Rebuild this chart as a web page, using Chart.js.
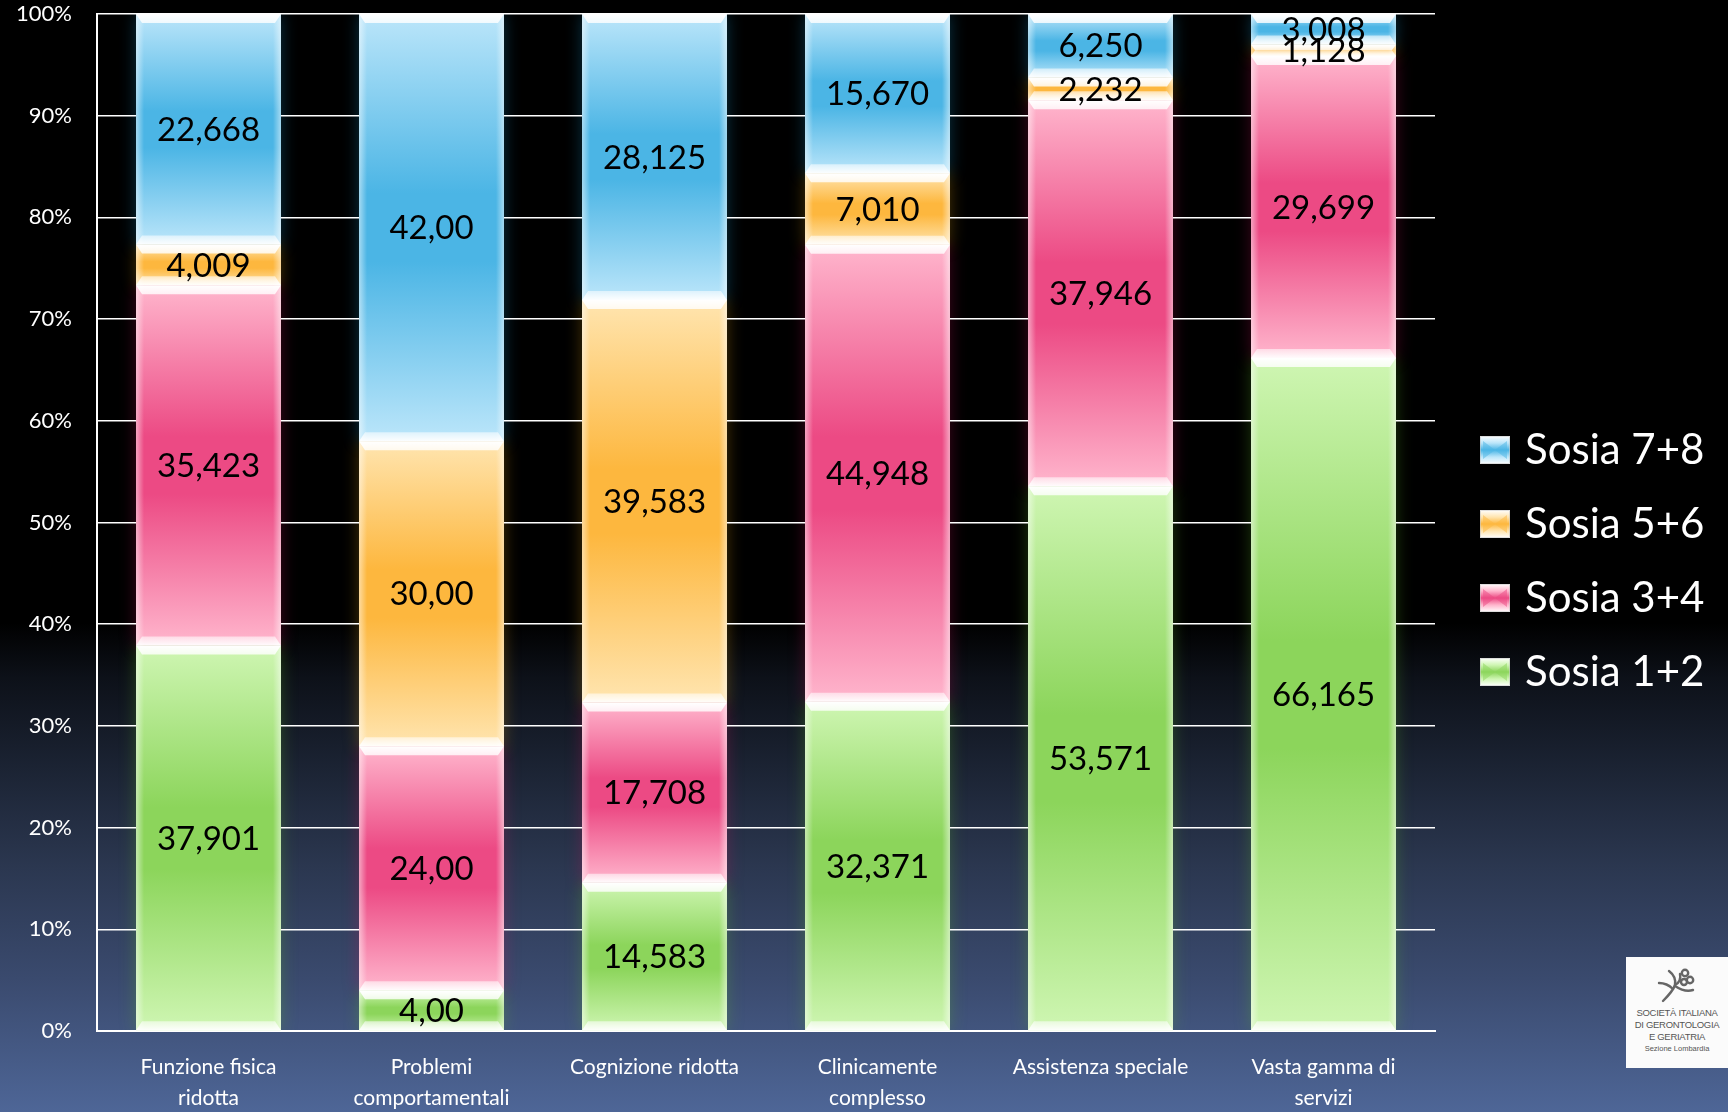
<!DOCTYPE html>
<html>
<head>
<meta charset="utf-8">
<script src="https://cdn.jsdelivr.net/npm/chart.js@4.4.1/dist/chart.umd.min.js"></script>
<style>
  html, body { margin: 0; padding: 0; width: 1728px; height: 1112px; overflow: hidden; }
  body { background: linear-gradient(to bottom, #000 0%, #000 56%, #0d1119 61%, #1b2333 69%, #2b3750 78%, #3a4a6e 88%, #4e6697 100%); }
  #wrap { position: absolute; left: 0; top: 0; width: 1728px; height: 1112px; }
  #logo { position: absolute; left: 1626px; top: 957px; width: 102px; height: 111px; background: #fbfbfb;
          font-family: "Liberation Sans", Arial, sans-serif; color: #555; text-align: center; box-sizing: border-box; }
  #logo svg { display: block; margin: 8px auto 2px auto; }
  #logo .l { font-size: 9.5px; line-height: 12px; letter-spacing: -0.3px; white-space: nowrap; }
  #logo .s { font-size: 7.5px; line-height: 11px; }
</style>
</head>
<body>
<div id="wrap"><canvas id="chart" width="1728" height="1112"></canvas></div>
<div id="logo">
  <svg width="44" height="40" viewBox="0 0 44 40">
    <g fill="none" stroke="#666" stroke-width="2.4" stroke-linecap="round">
      <path d="M8 36 C14 30 18 26 20 20 C21 14 18 9 14 6"/>
      <path d="M20 20 C24 18 26 14 25 9"/>
      <path d="M20 21 C26 25 32 27 38 25"/>
      <path d="M4 18 C9 18 14 20 18 24"/>
      <circle cx="30" cy="8" r="3.2"/>
      <circle cx="35" cy="15" r="3.2"/>
      <circle cx="29" cy="17" r="3"/>
    </g>
  </svg>
  <div class="l">SOCIETÀ ITALIANA</div>
  <div class="l">DI GERONTOLOGIA</div>
  <div class="l">E GERIATRIA</div>
  <div class="s">Sezione Lombardia</div>
</div>
<script>
// ---------- DATA ----------
const categories = [
  ["Funzione fisica", "ridotta"],
  ["Problemi", "comportamentali"],
  ["Cognizione ridotta"],
  ["Clinicamente", "complesso"],
  ["Assistenza speciale"],
  ["Vasta gamma di", "servizi"]
];
const seriesNames = ["Sosia 1+2", "Sosia 3+4", "Sosia 5+6", "Sosia 7+8"];
const sosia12 = [37.901, 4.00, 14.583, 32.371, 53.571, 66.165];
const sosia34 = [35.423, 24.00, 17.708, 44.948, 37.946, 29.699];
const sosia56 = [4.009, 30.00, 39.583, 7.010, 2.232, 1.128];
const sosia78 = [22.668, 42.00, 28.125, 15.670, 6.250, 3.008];
const labels12 = ["37,901", "4,00", "14,583", "32,371", "53,571", "66,165"];
const labels34 = ["35,423", "24,00", "17,708", "44,948", "37,946", "29,699"];
const labels56 = ["4,009", "30,00", "39,583", "7,010", "2,232", "1,128"];
const labels78 = ["22,668", "42,00", "28,125", "15,670", "6,250", "3,008"];
const yTickValues = [0, 10, 20, 30, 40, 50, 60, 70, 80, 90, 100];

// ---------- STYLE ----------
const palette = [
  { light: '#cff6b3', mid: '#8cd55b', glow: 'rgba(95,180,40,0.6)' },
  { light: '#ffb6cd', mid: '#ec4a84', glow: 'rgba(200,20,90,0.6)' },
  { light: '#ffe5b0', mid: '#fdb73e', glow: 'rgba(225,160,20,0.6)' },
  { light: '#bce6fa', mid: '#4bb5e5', glow: 'rgba(30,160,215,0.6)' }
];
const FONT = 'Lato, "Open Sans", sans-serif';

function segmentBounds(chart, d, i) {
  let start = 0;
  for (let k = 0; k < d; k++) start += chart.data.datasets[k].data[i];
  const end = start + chart.data.datasets[d].data[i];
  return [start, end];
}

function segmentFill(context) {
  const chart = context.chart;
  const pal = palette[context.datasetIndex];
  if (!chart.chartArea || !chart.scales.y) return pal.mid;
  const [s, e] = segmentBounds(chart, context.datasetIndex, context.dataIndex);
  const yS = chart.scales.y.getPixelForValue(s);
  const yE = chart.scales.y.getPixelForValue(e);
  const g = chart.ctx.createLinearGradient(0, Math.min(yS, yE), 0, Math.max(yS, yE) + 0.01);
  g.addColorStop(0, pal.light);
  g.addColorStop(0.42, pal.mid);
  g.addColorStop(0.58, pal.mid);
  g.addColorStop(1, pal.light);
  return g;
}

const valueLabelSets = [labels12, labels34, labels56, labels78];

function barRects(chart) {
  const out = [];
  chart.data.datasets.forEach((ds, d) => {
    const meta = chart.getDatasetMeta(d);
    meta.data.forEach((el, i) => {
      const p = el.getProps(['x', 'y', 'base', 'width'], true);
      out.push({ d, i, x0: p.x - p.width / 2, x1: p.x + p.width / 2, cx: p.x,
                 yTop: Math.min(p.y, p.base), yBot: Math.max(p.y, p.base) });
    });
  });
  return out;
}

const glowPlugin = {
  id: 'glow',
  beforeDraw(chart) {
    const ctx = chart.ctx, a = chart.chartArea;
    ctx.save();
    ctx.beginPath();
    ctx.rect(a.left, a.top, a.right - a.left, a.bottom - a.top);
    ctx.clip();
    barRects(chart).forEach(r => {
      const pal = palette[r.d];
      ctx.save();
      ctx.shadowColor = pal.glow;
      ctx.shadowBlur = 16;
      ctx.fillStyle = pal.glow;
      ctx.fillRect(r.x0 + 1, r.yTop, r.x1 - r.x0 - 2, r.yBot - r.yTop);
      ctx.restore();
    });
    ctx.restore();
  }
};

const bevelPlugin = {
  id: 'bevel',
  afterDatasetsDraw(chart) {
    const ctx = chart.ctx;
    const rects = barRects(chart);
    ctx.save();
    rects.forEach(r => {
      const h = r.yBot - r.yTop;
      // side bevels
      let g = ctx.createLinearGradient(r.x0, 0, r.x0 + 8, 0);
      g.addColorStop(0, 'rgba(255,255,255,0.5)');
      g.addColorStop(1, 'rgba(255,255,255,0)');
      ctx.fillStyle = g;
      ctx.fillRect(r.x0, r.yTop, 8, h);
      g = ctx.createLinearGradient(r.x1, 0, r.x1 - 8, 0);
      g.addColorStop(0, 'rgba(255,255,255,0.5)');
      g.addColorStop(1, 'rgba(255,255,255,0)');
      ctx.fillStyle = g;
      ctx.fillRect(r.x1 - 8, r.yTop, 8, h);
      const b = Math.min(9, h / 2);
      const ins = Math.min(6, b * 0.7);
      // top bevel
      g = ctx.createLinearGradient(0, r.yTop, 0, r.yTop + b);
      g.addColorStop(0, 'rgba(255,255,255,1)');
      g.addColorStop(1, 'rgba(255,255,255,0.8)');
      ctx.fillStyle = g;
      ctx.beginPath();
      ctx.moveTo(r.x0, r.yTop);
      ctx.lineTo(r.x1, r.yTop);
      ctx.lineTo(r.x1 - ins, r.yTop + b);
      ctx.lineTo(r.x0 + ins, r.yTop + b);
      ctx.closePath();
      ctx.fill();
      // bottom bevel
      g = ctx.createLinearGradient(0, r.yBot, 0, r.yBot - b);
      g.addColorStop(0, 'rgba(255,255,255,0.95)');
      g.addColorStop(1, 'rgba(255,255,255,0.55)');
      ctx.fillStyle = g;
      ctx.beginPath();
      ctx.moveTo(r.x0, r.yBot);
      ctx.lineTo(r.x1, r.yBot);
      ctx.lineTo(r.x1 - ins, r.yBot - b);
      ctx.lineTo(r.x0 + ins, r.yBot - b);
      ctx.closePath();
      ctx.fill();
    });
    // value labels
    ctx.fillStyle = '#000';
    ctx.font = '33px ' + FONT;
    ctx.textAlign = 'center';
    ctx.textBaseline = 'middle';
    rects.forEach(r => {
      ctx.fillText(valueLabelSets[r.d][r.i], r.cx, (r.yTop + r.yBot) / 2 + 1);
    });
    ctx.restore();
  }
};

const legendPlugin = {
  id: 'customLegend',
  afterDraw(chart) {
    const ctx = chart.ctx;
    const o = chart.options.plugins.customLegend;
    const n = chart.data.datasets.length;
    ctx.save();
    for (let k = 0; k < n; k++) {
      const d = n - 1 - k; // reversed order
      const pal = palette[d];
      const cy = o.firstY + k * o.spacing;
      const bx = o.x, by = cy - o.boxH / 2;
      let g = ctx.createLinearGradient(0, by, 0, by + o.boxH);
      g.addColorStop(0, '#ffffff');
      g.addColorStop(0.25, pal.light);
      g.addColorStop(0.5, pal.mid);
      g.addColorStop(0.75, pal.light);
      g.addColorStop(1, '#ffffff');
      ctx.fillStyle = g;
      ctx.fillRect(bx, by, o.boxW, o.boxH);
      ctx.fillStyle = pal.mid;
      ctx.beginPath();
      ctx.moveTo(bx + 3, by + 5);
      ctx.lineTo(bx + o.boxW / 2, by + o.boxH / 2);
      ctx.lineTo(bx + o.boxW - 3, by + 5);
      ctx.lineTo(bx + o.boxW - 3, by + o.boxH - 5);
      ctx.lineTo(bx + o.boxW / 2, by + o.boxH / 2);
      ctx.lineTo(bx + 3, by + o.boxH - 5);
      ctx.closePath();
      ctx.globalAlpha = 0.5;
      ctx.fill();
      ctx.globalAlpha = 1;
      ctx.strokeStyle = 'rgba(200,200,200,0.6)';
      ctx.lineWidth = 1;
      ctx.strokeRect(bx + 0.5, by + 0.5, o.boxW - 1, o.boxH - 1);
      ctx.fillStyle = '#ffffff';
      ctx.font = o.fontSize + 'px ' + FONT;
      ctx.textAlign = 'left';
      ctx.textBaseline = 'middle';
      ctx.fillText(chart.data.datasets[d].label, bx + o.boxW + 15, cy);
    }
    ctx.restore();
  }
};

const datasetsValues = [sosia12, sosia34, sosia56, sosia78];

new Chart(document.getElementById('chart'), {
  type: 'bar',
  data: {
    labels: categories,
    datasets: datasetsValues.map((vals, d) => ({
      label: seriesNames[d],
      data: vals,
      backgroundColor: segmentFill,
      borderWidth: 0,
      barPercentage: 0.65,
      categoryPercentage: 1.0
    }))
  },
  options: {
    responsive: false,
    animation: false,
    devicePixelRatio: 1,
    layout: { autoPadding: false, padding: { top: 14, right: 293, left: 0, bottom: 0 } },
    plugins: {
      legend: { display: false },
      tooltip: { enabled: false },
      customLegend: { x: 1480, firstY: 450, spacing: 74, boxW: 30, boxH: 28, fontSize: 42 }
    },
    scales: {
      x: {
        stacked: true,
        grid: { display: false, drawTicks: false },
        border: { display: true, color: '#ffffff', width: 2 },
        ticks: { color: '#ffffff', font: { family: FONT, size: 21, lineHeight: 1.5 }, padding: 20, maxRotation: 0, autoSkip: false },
        afterFit: s => { s.height = 81; }
      },
      y: {
        stacked: true,
        min: 0,
        max: 100,
        afterBuildTicks: s => { s.ticks = yTickValues.map(v => ({ value: v })); },
        ticks: { color: '#ffffff', font: { family: FONT, size: 22 }, padding: 0, callback: v => v + '%' },
        grid: { color: '#ffffff', lineWidth: 1.5, drawTicks: true, tickLength: 25, tickColor: 'rgba(0,0,0,0)' },
        border: { display: true, color: '#ffffff', width: 2 },
        afterFit: s => { s.width = 97; s.paddingTop = 0; s.paddingBottom = 0; }
      }
    }
  },
  plugins: [glowPlugin, bevelPlugin, legendPlugin]
});
</script>
</body>
</html>
